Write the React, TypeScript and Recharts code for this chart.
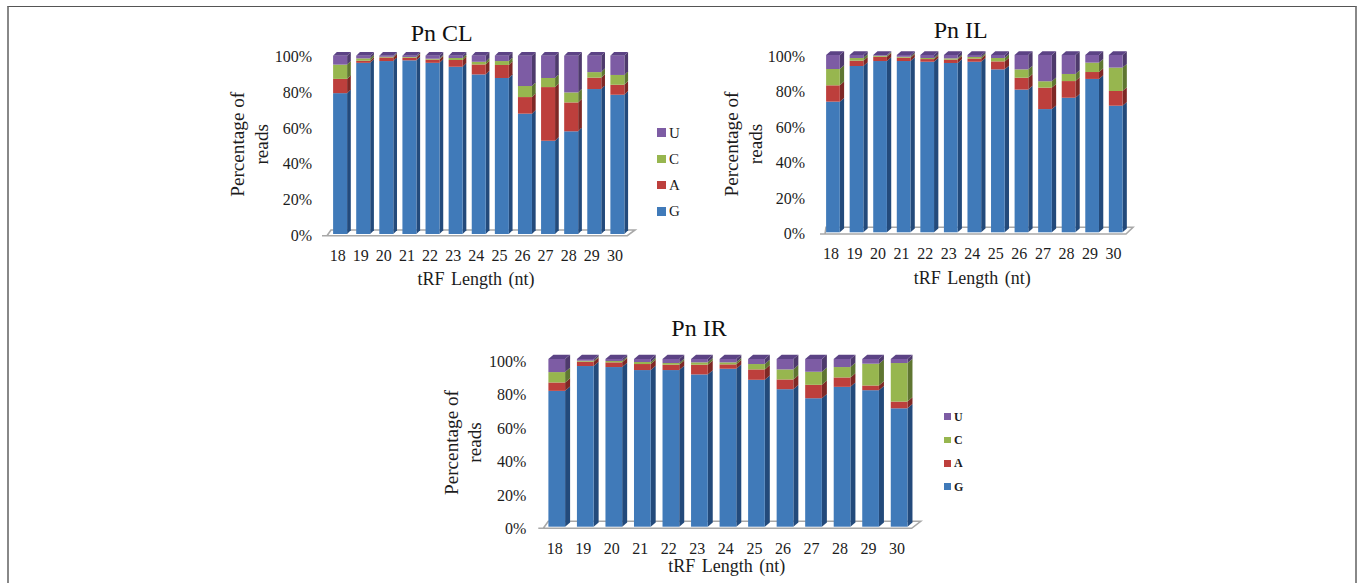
import React from 'react';
import { BarChart, Bar, XAxis, YAxis, Legend } from 'recharts';

const lengths = ['18','19','20','21','22','23','24','25','26','27','28','29','30'];
const yTicks = [0, 20, 40, 60, 80, 100];

const clG = [79,96,97,97.4,96,93.8,89.5,87.5,67.5,52.3,57.6,81.3,78.1];
const clA = [8,1.2,2,1.5,1.8,3.8,5.6,7.3,9.3,30.1,16.2,6.4,5.6];
const clC = [8,1.3,0.4,0.4,0.5,1.1,1.5,2.2,6.2,5.1,5.6,3.1,5.5];
const clU = [5,1.5,0.6,0.7,1.7,1.3,3.4,3,17,12.5,20.6,9.2,10.8];

const ilG = [73.7,93.8,96.6,96.6,96.2,95.5,96.2,91.9,80.5,69.5,75.9,86.5,71.4];
const ilA = [9.2,3,2.4,1.9,1.5,1.9,1.8,4.5,6.7,12.1,9.4,3.9,8.3];
const ilC = [9.2,1.5,0.6,0.5,0.6,0.7,0.9,1.9,4.7,3.6,4,5.3,13.2];
const ilU = [7.9,1.7,0.4,1,1.7,1.9,1.1,1.7,8.1,14.8,10.7,4.3,7.1];

const irG = [81,95.8,95.2,93.4,93.4,90.8,94.2,87.6,82,76.6,83.4,81.4,70.6];
const irA = [5,2.6,2.8,3.6,3.2,5.8,2.6,6.2,5.8,8,5.6,2.8,4];
const irC = [6.2,0.6,0.8,1.2,1,1.4,1.2,3.2,6,7.8,6.2,13,23];
const irU = [7.8,1,1.2,1.8,2.4,2,2,3,6.2,7.6,4.8,2.8,2.4];

const table = (g: number[], a: number[], c: number[], u: number[]) =>
  lengths.map((len, i) => ({ len, G: g[i], A: a[i], C: c[i], U: u[i] }));

const SERIF = '"Liberation Serif", "Times New Roman", serif';
const INK = '#1c1c1c';
const FLOOR = '#a8a8a8';
const keys = ['G', 'A', 'C', 'U'];
const front: Record<string, string> = { G: '#407ab9', A: '#bd3f3c', C: '#97b64f', U: '#7d5ca4' };
const side: Record<string, string> = { G: '#234a7b', A: '#7e2825', C: '#5f7631', U: '#4e3a6c' };
const TOP = '#5c4385';

const makeShape = (k: string, dx: number, dy: number) => (p: any) => {
  const { x, y, width: w, height: h } = p;
  return (
    <g>
      <polygon points={`${x + w},${y} ${x + w + dx},${y - dy} ${x + w + dx},${y + h - dy} ${x + w},${y + h}`} fill={side[k]} />
      {k === 'U' && <polygon points={`${x},${y} ${x + dx},${y - dy} ${x + w + dx},${y - dy} ${x + w},${y}`} fill={TOP} />}
      <rect x={x} y={y} width={w} height={h} fill={front[k]} />
    </g>
  );
};

const makeLegend = (c: any) => (props: any) => {
  const items = [...(props.payload || [])].sort(
    (a: any, b: any) => keys.indexOf(b.dataKey) - keys.indexOf(a.dataKey),
  );
  return (
    <div style={{ position: 'relative', width: 40, height: c.legend.gap * 4 }}>
      {items.map((it: any, i: number) => (
        <div key={it.dataKey} style={{ position: 'absolute', left: 0, top: i * c.legend.gap, height: 18, display: 'flex', alignItems: 'center' }}>
          <span style={{ display: 'block', width: c.legend.box, height: c.legend.box, background: front[it.dataKey], marginRight: c.legend.pad }} />
          <span style={{ fontFamily: SERIF, fontSize: c.legend.size, fontWeight: c.legend.weight, color: INK, lineHeight: '18px' }}>{it.value}</span>
        </div>
      ))}
    </div>
  );
};

const charts = [
  {
    title: 'Pn CL', data: table(clG, clA, clC, clU),
    box: { x: 220, y: 10, w: 480, h: 290 }, plot: { l: 328.1, r: 628.5, t: 55.7, b: 234 },
    barW: 14, dx: 3.7, dy: 3.7, tickDy: 1,
    floor: { fl: 322, fr: 627.3, fy: 235.7, bl: 331, br: 635, by: 230 },
    titlePos: [441.7, 41], xTitle: [476, 285], xTitleSize: 18,
    yTitle: [238.3, 261.7, 144.3], yTitleSize: 19.2,
    legend: { x: 657, y: 123.7, gap: 26.2, box: 8.5, pad: 3.5, size: 15, weight: 400 },
  },
  {
    title: 'Pn IL', data: table(ilG, ilA, ilC, ilU),
    box: { x: 715, y: 10, w: 425, h: 290 }, plot: { l: 821.1, r: 1127.4, t: 55, b: 232.3 },
    barW: 13.7, dx: 4.3, dy: 3.7, tickDy: 1,
    floor: { fl: 820, fr: 1126, fy: 234, bl: 826, br: 1133, by: 227.3 },
    titlePos: [960.7, 37.7], xTitle: [972.3, 283.5], xTitleSize: 18,
    yTitle: [731.7, 755.7, 144], yTitleSize: 19.2,
    legend: null,
  },
  {
    title: 'Pn IR', data: table(irG, irA, irC, irU),
    box: { x: 430, y: 310, w: 550, h: 273 }, plot: { l: 542.4, r: 913.3, t: 359, b: 526.7 },
    barW: 16.7, dx: 5, dy: 4.3, tickDy: 2,
    floor: { fl: 538.3, fr: 911.7, fy: 528.3, bl: 548.3, br: 920.7, by: 521.3 },
    titlePos: [699, 336], xTitle: [726.7, 572], xTitleSize: 18,
    yTitle: [451.7, 475, 442.5], yTitleSize: 19.2,
    legend: { x: 944, y: 407.7, gap: 23.3, box: 6.7, pad: 3.3, size: 12, weight: 700 },
  },
];

const Panel = ({ c }: { c: any }) => {
  const { box, plot, floor: f } = c;
  const ox = box.x, oy = box.y;
  return (
    <div style={{ position: 'absolute', left: ox, top: oy, width: box.w, height: box.h }}>
      <BarChart
        width={box.w}
        height={box.h}
        data={c.data}
        barSize={c.barW}
        margin={{ left: 0, right: ox + box.w - plot.r, top: plot.t - oy, bottom: 0 }}
      >
        <polyline
          points={`${f.fl - ox},${f.fy - oy} ${f.fr - ox},${f.fy - oy} ${f.br - ox},${f.by - oy} ${f.bl - ox},${f.by - oy} ${f.fl + 5 - ox},${f.fy - oy}`}
          fill="#fff"
          stroke={FLOOR}
          strokeWidth={1.6}
        />
        <XAxis
          dataKey="len"
          axisLine={false}
          tickLine={false}
          interval={0}
          tickMargin={9.5}
          dx={-2}
          height={oy + box.h - plot.b}
          tick={{ fontFamily: SERIF, fontSize: 16, fill: INK }}
        />
        <YAxis
          domain={[0, 100]}
          ticks={yTicks}
          interval={0}
          axisLine={false}
          tickLine={false}
          tickMargin={10}
          dy={c.tickDy}
          width={plot.l - ox}
          tickFormatter={(v: number) => `${v}%`}
          tick={{ fontFamily: SERIF, fontSize: 16, fill: INK }}
        />
        {keys.map((k) => (
          <Bar key={k} dataKey={k} stackId="s" fill={front[k]} isAnimationActive={false} shape={makeShape(k, c.dx, c.dy)} />
        ))}
        {c.legend && (
          <Legend
            layout="vertical"
            align="center"
            verticalAlign="middle"
            wrapperStyle={{ left: c.legend.x - ox, top: c.legend.y - oy, width: 40 }}
            content={makeLegend(c)}
          />
        )}
        <text x={c.titlePos[0] - ox} y={c.titlePos[1] - oy} textAnchor="middle" fontFamily={SERIF} fontSize={24} fill="#111">{c.title}</text>
        <text x={c.xTitle[0] - ox} y={c.xTitle[1] - oy} textAnchor="middle" fontFamily={SERIF} fontSize={c.xTitleSize} wordSpacing={2} fill={INK}>tRF Length (nt)</text>
        {['Percentage of', 'reads'].map((line, i) => (
          <text
            key={line}
            transform={`translate(${c.yTitle[i] + 6 - ox},${c.yTitle[2] - oy}) rotate(-90)`}
            textAnchor="middle"
            fontFamily={SERIF}
            fontSize={c.yTitleSize}
            fill={INK}
          >
            {line}
          </text>
        ))}
      </BarChart>
    </div>
  );
};

export default function App() {
  return (
    <div style={{ position: 'absolute', left: 0, top: 0, width: 1363, height: 583, overflow: 'hidden', background: '#fff' }}>
      <div style={{ position: 'absolute', left: 7, top: 6, width: 1350, height: 590, borderTop: '1.5px solid #555', borderLeft: '2px solid #888', borderRight: '2px solid #888', boxSizing: 'border-box' }} />
      {charts.map((c) => <Panel key={c.title} c={c} />)}
    </div>
  );
}
